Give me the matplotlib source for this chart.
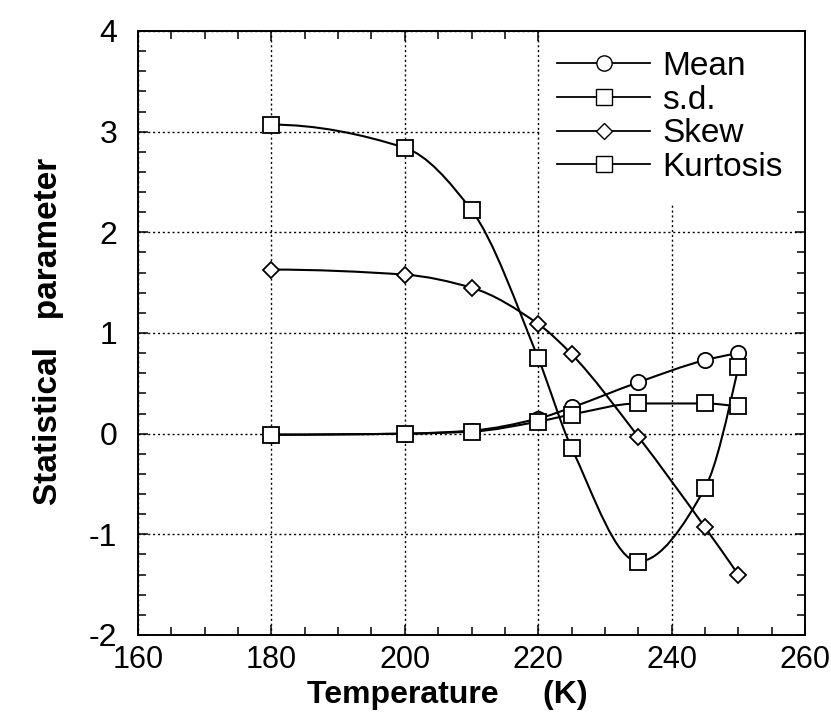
import matplotlib
matplotlib.use('Agg')
import matplotlib.pyplot as plt
import numpy as np
from matplotlib.lines import Line2D
from matplotlib.patches import PathPatch, Rectangle
from matplotlib.path import Path
from matplotlib.ticker import MultipleLocator

plt.rcParams['font.family'] = ['Liberation Sans', 'DejaVu Sans']
plt.rcParams['axes.unicode_minus'] = False

temperature = [180, 200, 210, 220, 225, 235, 245, 250]
mean_vals = [-0.01, 0.00, 0.03, 0.15, 0.26, 0.51, 0.73, 0.80]
sd_vals = [-0.01, 0.00, 0.02, 0.12, 0.19, 0.30, 0.30, 0.27]
skew_vals = [1.63, 1.58, 1.45, 1.09, 0.79, -0.03, -0.93, -1.40]
kurt_vals = [3.07, 2.84, 2.22, 0.75, -0.14, -1.27, -0.54, 0.66]

series_names = ['Mean', 's.d.', 'Skew', 'Kurtosis']
series_markers = ['o', 's', 'D', 's']
marker_sizes = [11, 11, 8, 11]


def pchip_slopes(x, y):
    # Fritsch-Carlson slopes, used only to shape the smooth connecting line
    h = np.diff(x)
    delta = np.diff(y) / h
    d = np.zeros_like(y)
    for k in range(1, len(x) - 1):
        if delta[k - 1] * delta[k] > 0:
            w1 = 2 * h[k] + h[k - 1]
            w2 = h[k] + 2 * h[k - 1]
            d[k] = (w1 + w2) / (w1 / delta[k - 1] + w2 / delta[k])
    for s in (0, -1):
        hh0, hh1 = (h[0], h[1]) if s == 0 else (h[-1], h[-2])
        dd0, dd1 = (delta[0], delta[1]) if s == 0 else (delta[-1], delta[-2])
        v = ((2 * hh0 + hh1) * dd0 - hh0 * dd1) / (hh0 + hh1)
        if np.sign(v) != np.sign(dd0):
            v = 0.0
        elif np.sign(dd0) != np.sign(dd1) and abs(v) > abs(3 * dd0):
            v = 3 * dd0
        d[s] = v
    return d


def smooth_path(xs, ys):
    x = np.asarray(xs, dtype=float)
    y = np.asarray(ys, dtype=float)
    d = pchip_slopes(x, y)
    verts = [(x[0], y[0])]
    codes = [Path.MOVETO]
    for k in range(len(x) - 1):
        h = x[k + 1] - x[k]
        verts += [(x[k] + h / 3, y[k] + d[k] * h / 3),
                  (x[k + 1] - h / 3, y[k + 1] - d[k + 1] * h / 3),
                  (x[k + 1], y[k + 1])]
        codes += [Path.CURVE4] * 3
    return Path(verts, codes)


fig = plt.figure(figsize=(8.31, 7.28), dpi=100)
ax = fig.add_axes([138 / 831, 1 - 635 / 728, 667 / 831, 604 / 728])

all_vals = [mean_vals, sd_vals, skew_vals, kurt_vals]
handles = []
for vals, name, mk, ms in zip(all_vals, series_names, series_markers, marker_sizes):
    ax.add_patch(PathPatch(smooth_path(temperature, vals), facecolor='none',
                           edgecolor='black', lw=1.5, zorder=3))
    ax.plot(temperature, vals, ls='none', marker=mk, ms=ms, mfc='white',
            mec='black', mew=1.3, zorder=4)
    handles.append(Line2D([], [], color='black', lw=1.3, marker=mk, ms=ms,
                          mfc='white', mec='black', mew=1.0))

ax.set_xlim(160, 260)
ax.set_ylim(-2, 4)
ax.xaxis.set_major_locator(MultipleLocator(20))
ax.xaxis.set_minor_locator(MultipleLocator(5))
ax.yaxis.set_major_locator(MultipleLocator(1))
ax.yaxis.set_minor_locator(MultipleLocator(0.2))
ax.tick_params(which='both', direction='in', top=True, right=True, width=1.1)
ax.tick_params(which='major', length=7)
ax.tick_params(which='minor', length=6)
ax.tick_params(axis='x', which='major', labelsize=22, pad=7)
ax.tick_params(axis='y', which='major', labelsize=23, pad=15)
ax.grid(True, which='major', color='black', ls=(0, (1.5, 2.0)), lw=1.0)
ax.set_axisbelow(True)
for sp in ax.spines.values():
    sp.set_linewidth(1.4)

# white block behind the legend hides the grid there
ax.add_patch(Rectangle((0.605, 0.712), 0.395, 0.288, transform=ax.transAxes,
                       facecolor='white', edgecolor='none', zorder=1.5))
leg = ax.legend(handles, series_names, loc='upper left',
                bbox_to_anchor=((557 - 138) / 667, (635 - 51) / 604),
                frameon=False, fontsize=24, handlelength=2.8,
                handletextpad=0.35, labelspacing=0.08, borderpad=0,
                borderaxespad=0)
leg.set_zorder(5)

fig.text(447 / 831, 1 - 703 / 728, 'Temperature     (K)', ha='center',
         va='baseline', fontsize=23, fontweight='bold')
fig.text(57 / 831, 1 - 331 / 728, 'Statistical   parameter', ha='center',
         va='baseline', rotation=90, rotation_mode='anchor', fontsize=24,
         fontweight='bold')

fig.savefig('out.png', dpi=100)
